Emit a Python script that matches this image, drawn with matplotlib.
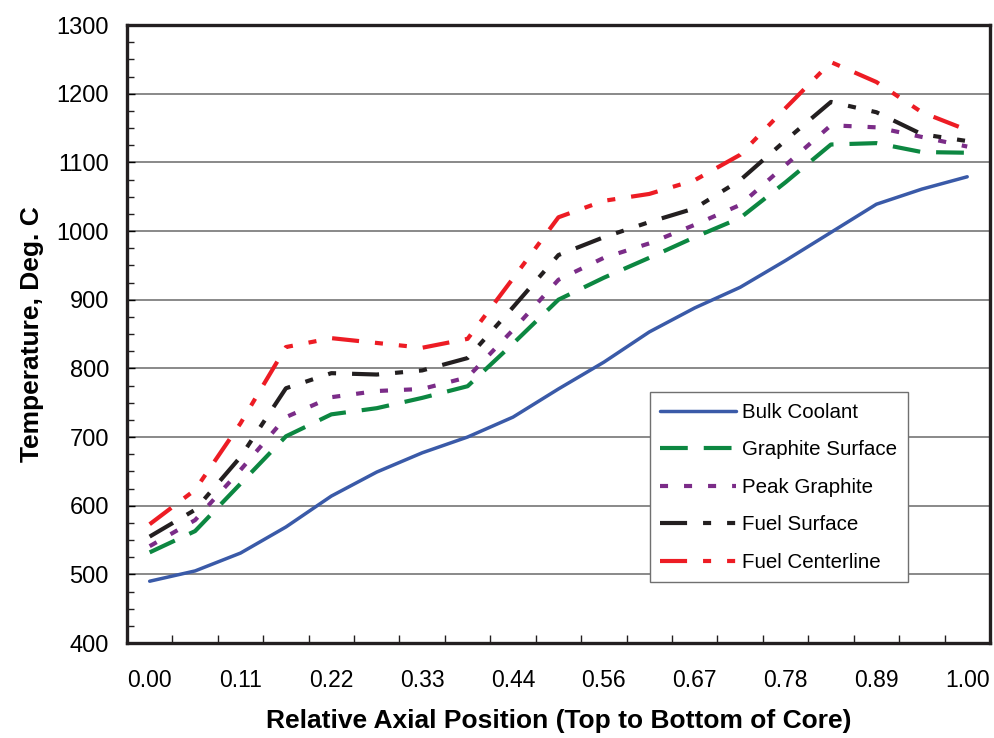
import numpy as np
import matplotlib
matplotlib.use("Agg")
import matplotlib.pyplot as plt
from matplotlib.ticker import MultipleLocator, FixedLocator

plt.rcParams['font.family'] = ['Liberation Sans', 'DejaVu Sans']
plt.rcParams['lines.scale_dashes'] = False

# relative axial position (19 nodes, top to bottom of core)
positions = np.arange(19) / 18.0
label_positions = [0.0, 1/9, 2/9, 3/9, 4/9, 5/9, 6/9, 7/9, 8/9, 1.0]
label_texts = ["0.00", "0.11", "0.22", "0.33", "0.44", "0.56", "0.67", "0.78", "0.89", "1.00"]

# temperatures, deg C
bulk_coolant = [490, 505, 531, 569, 614, 649, 677, 700, 729, 770, 809, 853, 888, 918, 957, 998, 1039, 1061, 1079]
graphite_surface = [532, 563, 632, 701, 733, 742, 757, 774, 836, 900, 932, 961, 991, 1019, 1071, 1126, 1128, 1115, 1114]
peak_graphite = [541, 579, 652, 729, 758, 767, 770, 787, 856, 929, 961, 982, 1009, 1038, 1096, 1154, 1151, 1137, 1123]
fuel_surface = [555, 594, 671, 771, 793, 791, 797, 815, 889, 965, 991, 1013, 1033, 1074, 1132, 1188, 1173, 1141, 1131]
fuel_centerline = [573, 623, 720, 831, 844, 837, 830, 843, 931, 1020, 1044, 1054, 1074, 1111, 1179, 1246, 1217, 1173, 1147]

series = [
    ("Bulk Coolant", bulk_coolant, '#3a5aa8', 2.5, None),
    ("Graphite Surface", graphite_surface, '#0c8741', 3.0, (0, (20, 11.5))),
    ("Peak Graphite", peak_graphite, '#7b2c88', 3.0, (0, (5.8, 11.5))),
    ("Fuel Surface", fuel_surface, '#231f20', 3.0, (0, (19.5, 11.5, 5.8, 11.5, 5.8, 11.5))),
    ("Fuel Centerline", fuel_centerline, '#ed1c24', 3.0, (0, (19.5, 11.5, 5.8, 11.5, 5.8, 11.5))),
]

fig = plt.figure(figsize=(9.95, 7.38), dpi=100)
ax = fig.add_axes([0.1276, 0.1287, 0.8673, 0.8374])

for name, vals, col, lw, ls in series:
    if ls is None:
        ax.plot(positions, vals, color=col, lw=lw, label=name, solid_capstyle='round')
    else:
        ax.plot(positions, vals, color=col, lw=lw, linestyle=ls, label=name)

ax.set_ylim(400, 1300)
ax.set_xlim(-1/36, 1 + 1/36)

ax.yaxis.set_major_locator(MultipleLocator(100))
ax.yaxis.set_minor_locator(MultipleLocator(25))
ax.set_xticks(label_positions)
ax.set_xticklabels(label_texts)
ax.xaxis.set_minor_locator(FixedLocator([(i + 0.5) / 18 for i in range(18)]))

ax.tick_params(axis='x', which='major', length=0, pad=19, labelsize=16.5)
ax.tick_params(axis='x', which='minor', direction='in', length=6, width=1, color='#231f20')
ax.tick_params(axis='y', which='major', direction='in', length=6, width=1, pad=13, labelsize=17)
ax.tick_params(axis='y', which='minor', direction='in', length=5, width=1, color='#231f20')

ax.grid(True, axis='y', which='major', color='#808080', lw=1.3)
ax.set_axisbelow(True)

for s in ax.spines.values():
    s.set_linewidth(2.4)
    s.set_color('#231f20')

ax.set_xlabel("Relative Axial Position (Top to Bottom of Core)", fontsize=19,
              fontweight='bold', labelpad=12)
ax.set_ylabel("Temperature, Deg. C", fontsize=19, fontweight='bold', labelpad=9)

leg = ax.legend(loc='lower left', bbox_to_anchor=(0.606, 0.0987), fontsize=14.8,
                frameon=True, fancybox=False, edgecolor='#707070', framealpha=1,
                handlelength=3.7, handletextpad=0.3, labelspacing=0.9,
                borderpad=0.5, borderaxespad=0)
leg.get_frame().set_linewidth(1.0)

plt.savefig("out.png", dpi=100)
